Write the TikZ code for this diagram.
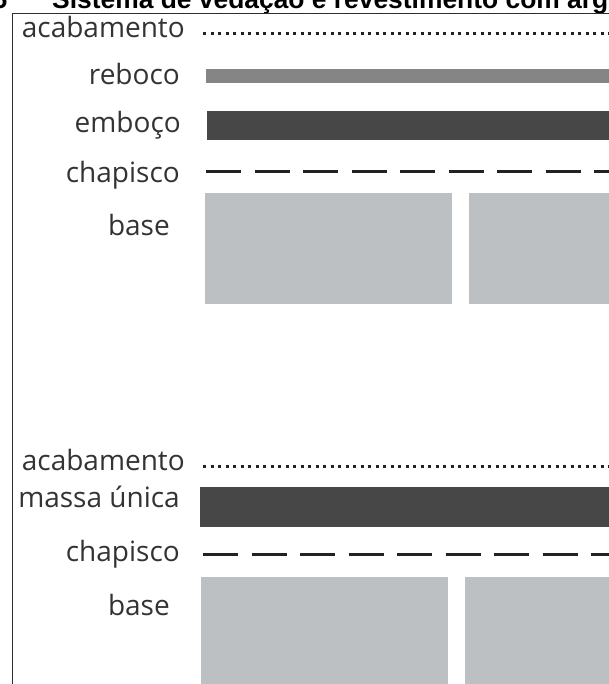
\documentclass[tikz,border=0pt]{standalone}
\usepackage{fontspec}
\setmainfont{Open Sans}
\newfontfamily\titlefont{Liberation Sans}

\definecolor{ink}{HTML}{333333}
\definecolor{framecol}{HTML}{2E2E2E}
\definecolor{rebococol}{HTML}{858585}
\definecolor{darkcoat}{HTML}{474747}
\definecolor{basecol}{HTML}{BDC0C2}
\definecolor{dashcol}{HTML}{222222}

\tikzset{
  lbl/.style={font=\fontsize{28}{28}\selectfont, text=ink, anchor=base east, inner sep=0pt},
  titletext/.style={font=\titlefont\bfseries\fontsize{26.4}{26.4}\selectfont, text=black, inner sep=0pt},
  frameline/.style={draw=framecol, line width=1.6pt},
  finishline/.style={draw=dashcol, line width=3pt, dash pattern=on 3pt off 4.5pt},
  scratchline/.style={draw=dashcol, line width=3pt, dash pattern=on 35pt off 13.5pt},
  rebocobar/.style={fill=rebococol},
  darkbar/.style={fill=darkcoat},
  baseblock/.style={fill=basecol}
}

\begin{document}
\begin{tikzpicture}[x=1pt,y=-1pt]
\useasboundingbox (0,0) rectangle (609,684);
\clip (0,0) rectangle (609,684);

% heading, cut by the page top
\node[titletext, anchor=base east] (num) at (7.5,9) {5};
\node[titletext, anchor=base west] (title) at (52,9) {Sistema de vedação e revestimento com arg};

% frame
\draw[frameline] (12.5,684) -- (12.5,13.5) -- (609,13.5);

% three-coat system
\node[lbl] (acab1) at (185,38) {acabamento};
\draw[finishline] (203,34) -- (609,34);
\node[lbl] (reb) at (180,85) {reboco};
\fill[rebocobar] (206,69) rectangle (609,83);
\node[lbl] (emb) at (181,133) {emboço};
\fill[darkbar] (207,111.5) rectangle (609,140.5);
\node[lbl] (chap1) at (180,183) {chapisco};
\draw[scratchline] (206,172) -- (609,172);
\node[lbl] (base1) at (170,236) {base};
\fill[baseblock] (205,193) rectangle (452,304);
\fill[baseblock] (469,193) rectangle (609,304);

% single-coat system
\node[lbl] (acab2) at (185,470) {acabamento};
\draw[finishline] (203,466) -- (609,466);
\node[lbl] (massa) at (180,507) {massa única};
\fill[darkbar] (200,486.5) rectangle (609,526.5);
\node[lbl] (chap2) at (180,561) {chapisco};
\draw[scratchline] (203,554) -- (609,554);
\node[lbl] (base2) at (170,615) {base};
\fill[baseblock] (201,577) rectangle (448,684);
\fill[baseblock] (465,577) rectangle (609,684);
\end{tikzpicture}
\end{document}
